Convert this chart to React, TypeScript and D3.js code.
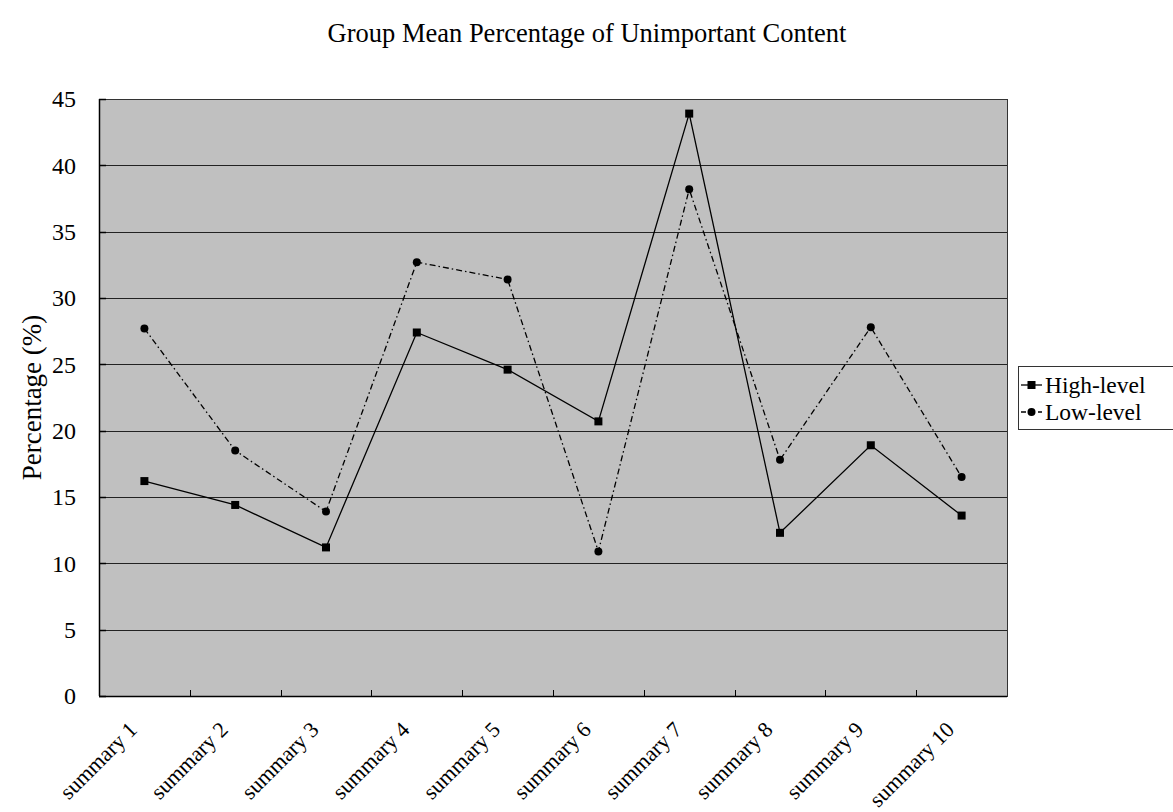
import React from "react";
import * as d3 from "d3";

const categories = [
  "summary 1", "summary 2", "summary 3", "summary 4", "summary 5",
  "summary 6", "summary 7", "summary 8", "summary 9", "summary 10",
];
const highLevel = [16.2, 14.4, 11.2, 27.4, 24.6, 20.7, 43.9, 12.3, 18.9, 13.6];
const lowLevel = [27.7, 18.5, 13.9, 32.7, 31.4, 10.9, 38.2, 17.8, 27.8, 16.5];
const yTicks = [0, 5, 10, 15, 20, 25, 30, 35, 40, 45];
const seriesNames = ["High-level", "Low-level"];

const W = 1173;
const H = 812;
const plot = { left: 99, right: 1007, top: 99, bottom: 696 };
const FONT = "'Liberation Serif', 'Times New Roman', serif";

export default function App() {
  const x = d3.scaleBand<string>().domain(categories).range([plot.left, plot.right]);
  const y = d3.scaleLinear().domain([0, 45]).range([plot.bottom, plot.top]);
  const cx = (c: string) => (x(c) as number) + x.bandwidth() / 2;

  const line = d3
    .line<number>()
    .x((_, i) => cx(categories[i]))
    .y((d) => y(d));

  const dashDot = "6,3,1.5,3";
  const legendRows = [385, 412];

  return (
    <div style={{ position: "absolute", left: 0, top: 0 }}>
      <svg width={W} height={H} style={{ display: "block", background: "#fff" }}>
        <text x={587} y={42} textAnchor="middle" fontFamily={FONT} fontSize={26.5} fill="#000">
          Group Mean Percentage of Unimportant Content
        </text>

        {/* plot area */}
        <rect
          x={plot.left}
          y={plot.top}
          width={plot.right - plot.left}
          height={plot.bottom - plot.top}
          fill="#c0c0c0"
        />

        {/* horizontal gridlines */}
        {yTicks.map((t) => (
          <line
            key={"g" + t}
            x1={plot.left}
            x2={plot.right}
            y1={Math.round(y(t)) + 0.5}
            y2={Math.round(y(t)) + 0.5}
            stroke="#222"
            strokeWidth={1}
          />
        ))}

        {/* frame */}
        <rect
          x={plot.left + 0.5}
          y={plot.top + 0.5}
          width={plot.right - plot.left}
          height={plot.bottom - plot.top}
          fill="none"
          stroke="#333"
          strokeWidth={1}
        />
        <line x1={plot.left} x2={plot.right} y1={plot.bottom + 0.5} y2={plot.bottom + 0.5} stroke="#000" strokeWidth={1.5} />
        <line x1={plot.left + 0.5} x2={plot.left + 0.5} y1={plot.top} y2={plot.bottom} stroke="#000" strokeWidth={1.5} />

        {/* y tick marks and labels */}
        {yTicks.map((t) => (
          <g key={"y" + t}>
            <line x1={plot.left} x2={plot.left + 7} y1={Math.round(y(t)) + 0.5} y2={Math.round(y(t)) + 0.5} stroke="#000" strokeWidth={1.5} />
            <text
              x={76}
              y={y(t)}
              dy="0.35em"
              textAnchor="end"
              fontFamily={FONT}
              fontSize={24}
              fill="#000"
            >
              {t}
            </text>
          </g>
        ))}

        {/* x category ticks */}
        {categories.slice(1).map((c) => (
          <line
            key={"xt" + c}
            x1={Math.round(x(c) as number) + 0.5}
            x2={Math.round(x(c) as number) + 0.5}
            y1={plot.bottom}
            y2={plot.bottom - 6}
            stroke="#000"
            strokeWidth={1}
          />
        ))}

        {/* x labels */}
        {categories.map((c) => (
          <text
            key={"xl" + c}
            transform={`translate(${cx(c) - 6},${plot.bottom + 35}) rotate(-45)`}
            textAnchor="end"
            fontFamily={FONT}
            fontSize={22}
            fill="#000"
          >
            {c}
          </text>
        ))}

        {/* y axis title */}
        <text
          transform={`translate(32,${(plot.top + plot.bottom) / 2}) rotate(-90)`}
          textAnchor="middle"
          dy="0.35em"
          fontFamily={FONT}
          fontSize={27}
          fill="#000"
        >
          Percentage (%)
        </text>

        {/* series */}
        <path d={line(lowLevel) as string} fill="none" stroke="#000" strokeWidth={1.3} strokeDasharray={dashDot} />
        <path d={line(highLevel) as string} fill="none" stroke="#000" strokeWidth={1.3} />
        {lowLevel.map((v, i) => (
          <circle key={"lc" + i} cx={cx(categories[i])} cy={y(v)} r={4} fill="#000" />
        ))}
        {highLevel.map((v, i) => (
          <rect key={"hs" + i} x={cx(categories[i]) - 4} y={y(v) - 4} width={8} height={8} fill="#000" />
        ))}

        {/* legend */}
        <rect x={1018.5} y={366.5} width={170} height={63} fill="#fff" stroke="#333" strokeWidth={1} />
        <line x1={1021} x2={1042} y1={legendRows[0]} y2={legendRows[0]} stroke="#000" strokeWidth={1.3} />
        <rect x={1027.5} y={legendRows[0] - 4} width={8} height={8} fill="#000" />
        <text x={1045} y={legendRows[0]} dy="0.35em" fontFamily={FONT} fontSize={23.5} fill="#000">
          {seriesNames[0]}
        </text>
        <line x1={1021} x2={1042} y1={legendRows[1]} y2={legendRows[1]} stroke="#000" strokeWidth={1.3} strokeDasharray="5,3.5" />
        <circle cx={1031.5} cy={legendRows[1]} r={4} fill="#000" />
        <text x={1045} y={legendRows[1]} dy="0.35em" fontFamily={FONT} fontSize={23.5} fill="#000">
          {seriesNames[1]}
        </text>
      </svg>
    </div>
  );
}
